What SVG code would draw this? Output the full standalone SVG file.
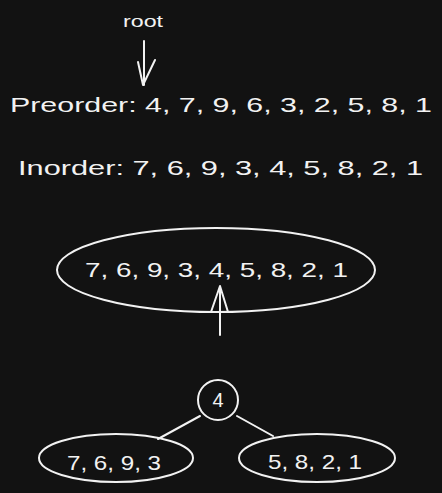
<svg xmlns="http://www.w3.org/2000/svg" width="442" height="493" viewBox="0 0 442 493">
<style>
text{font-family:"Liberation Sans",Arial,sans-serif;fill:#f2f2f2;}
.s{fill:none;stroke:#f2f2f2;stroke-width:2;stroke-linecap:round;stroke-linejoin:round;}
</style>
<rect width="442" height="493" fill="#121212"/>
<g id="root-label"><text x="143" y="27" font-size="16" text-anchor="middle" textLength="40" lengthAdjust="spacingAndGlyphs">root</text></g>
<g id="preorder"><text x="10" y="112" font-size="21" textLength="422" lengthAdjust="spacingAndGlyphs">Preorder: 4, 7, 9, 6, 3, 2, 5, 8, 1</text></g>
<g id="inorder"><text x="18" y="175" font-size="21" textLength="405" lengthAdjust="spacingAndGlyphs">Inorder: 7, 6, 9, 3, 4, 5, 8, 2, 1</text></g>
<g id="inorder-node">
<ellipse class="s" cx="216" cy="270" rx="159" ry="42"/>
<text x="85" y="277" font-size="21" textLength="263" lengthAdjust="spacingAndGlyphs">7, 6, 9, 3, 4, 5, 8, 2, 1</text>
</g>
<g id="root-node">
<circle class="s" cx="218" cy="400" r="20"/>
<text x="218" y="407" font-size="20" text-anchor="middle">4</text>
</g>
<g id="left-node">
<ellipse class="s" cx="116" cy="458" rx="77" ry="24"/>
<text x="67" y="470" font-size="21" textLength="94" lengthAdjust="spacingAndGlyphs">7, 6, 9, 3</text>
</g>
<g id="right-node">
<ellipse class="s" cx="317" cy="458" rx="78" ry="24"/>
<text x="268" y="469" font-size="21" textLength="94" lengthAdjust="spacingAndGlyphs">5, 8, 2, 1</text>
</g>
<g id="connectors">
<path class="s" d="M144 41 L144 85 M138 62 L143 85 L155 60"/>
<path class="s" d="M220 335 L220 287 M211 312 L220 286 L228 312"/>
<path class="s" d="M200 416 L158 439"/>
<path class="s" d="M237 416 L273 436"/>
</g>
</svg>
